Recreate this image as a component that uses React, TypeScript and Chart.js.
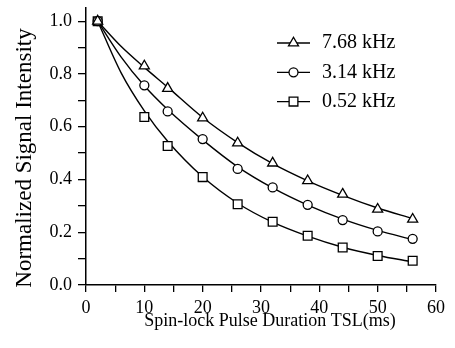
import { useEffect, useRef } from 'react';
import { Chart, registerables } from 'chart.js';
import { drawPoint } from 'chart.js/helpers';

Chart.register(...registerables);

const FONT = '"Liberation Serif", "Times New Roman", serif';

// Measured spin-lock durations (ms)
const tsl = [2, 10, 14, 20, 26, 32, 38, 44, 50, 56];
// Measured normalized intensities
const k768 = [1.0, 0.83, 0.745, 0.633, 0.538, 0.462, 0.395, 0.344, 0.287, 0.249];
const k314 = [1.0, 0.757, 0.658, 0.553, 0.44, 0.37, 0.304, 0.246, 0.203, 0.175];
const k052 = [1.0, 0.637, 0.527, 0.409, 0.306, 0.24, 0.187, 0.142, 0.11, 0.092];

// Fitted curves
const fitX = [2, 6, 10, 14, 20, 26, 32, 38, 44, 50, 56];
const fit768 = [1.0, 0.905, 0.825, 0.75, 0.635, 0.54, 0.46, 0.395, 0.34, 0.292, 0.252];
const fit314 = [1.0, 0.865, 0.755, 0.665, 0.55, 0.448, 0.368, 0.303, 0.25, 0.207, 0.172];
const fit052 = [1.0, 0.805, 0.66, 0.545, 0.41, 0.31, 0.238, 0.185, 0.143, 0.112, 0.088];

const seriesLabels = ['7.68 kHz', '3.14 kHz', '0.52 kHz'];
const seriesStyles = ['triangle', 'circle', 'rect'];
const seriesRadius = [5.8, 4.5, 6.2];

const xTitle = 'Spin-lock Pulse Duration TSL(ms)';
const yTitle = 'Normalized Signal Intensity';

const toXY = (xs: number[], ys: number[]) => xs.map((x, i) => ({ x, y: ys[i] }));

const insideLegend = {
  id: 'insideLegend',
  afterDraw(chart: any) {
    const { ctx, chartArea } = chart;
    const markers = chart.data.datasets.filter((d: any) => d.isMarker);
    const lineStart = chartArea.right - 159;
    const lineEnd = chartArea.right - 126;
    const textX = chartArea.right - 114;
    ctx.save();
    markers.forEach((d: any, i: number) => {
      const y = chartArea.top + 35 + i * 29.3;
      ctx.strokeStyle = '#000';
      ctx.lineWidth = 1.3;
      ctx.beginPath();
      ctx.moveTo(lineStart, y);
      ctx.lineTo(lineEnd, y);
      ctx.stroke();
      ctx.fillStyle = '#fff';
      ctx.lineWidth = 1.3;
      drawPoint(ctx, { pointStyle: d.pointStyle, radius: d.pointRadius, borderWidth: 1.3, rotation: 0 } as any, (lineStart + lineEnd) / 2, y);
      ctx.fillStyle = '#000';
      ctx.font = `20px ${FONT}`;
      ctx.textBaseline = 'middle';
      ctx.textAlign = 'left';
      ctx.fillText(d.label, textX, y);
    });
    ctx.restore();
  },
};

export default function App() {
  const ref = useRef<HTMLCanvasElement>(null);
  useEffect(() => {
    Chart.defaults.color = '#000';
    const markerSets = [k768, k314, k052].map((ys, i) => ({
      label: seriesLabels[i],
      isMarker: true,
      data: toXY(tsl, ys),
      showLine: false,
      pointStyle: seriesStyles[i],
      pointRadius: seriesRadius[i],
      pointBorderWidth: 1.3,
      pointBackgroundColor: '#fff',
      pointBorderColor: '#000',
      order: 0,
    }));
    const fitSets = [fit768, fit314, fit052].map((ys, i) => ({
      label: seriesLabels[i] + ' fit',
      data: toXY(fitX, ys),
      showLine: true,
      pointRadius: 0,
      borderColor: '#000',
      borderWidth: 1.4,
      cubicInterpolationMode: 'monotone',
      order: 1,
    }));
    const chart = new Chart(ref.current!, {
      type: 'scatter',
      data: { datasets: [...markerSets, ...fitSets] as any },
      options: {
        animation: false,
        responsive: true,
        maintainAspectRatio: false,
        layout: { padding: { top: 8, right: 19, bottom: 0, left: 0 } },
        plugins: { legend: { display: false }, tooltip: { enabled: false } },
        scales: {
          x: {
            type: 'linear',
            position: 'bottom',
            min: 0,
            max: 60,
            ticks: {
              stepSize: 5,
              autoSkip: false,
              maxRotation: 0,
              padding: 5,
              color: '#000',
              font: { family: FONT, size: 18 },
              callback: (v: any) => (Math.round(v) % 10 === 0 ? String(Math.round(v)) : ''),
            },
            grid: { display: true, drawOnChartArea: false, drawTicks: true, tickLength: 7, color: '#000', lineWidth: 1.3 },
            border: { display: true, color: '#000', width: 1.5 },
            title: { display: true, text: '    ' + xTitle, color: '#000', font: { family: FONT, size: 18 }, padding: { top: 0, bottom: 16 } },
            afterFit: (s: any) => {
              s.height = 63;
              s.paddingLeft = 0;
              s.paddingRight = 0;
            },
          },
          y: {
            type: 'linear',
            min: 0,
            max: 1.05,
            ticks: {
              stepSize: 0.1,
              includeBounds: false,
              autoSkip: false,
              padding: 6,
              color: '#000',
              font: { family: FONT, size: 18 },
              callback: (v: any) => (Math.round(v * 10) % 2 === 0 ? Number(v).toFixed(1) : ''),
            },
            grid: { display: true, drawOnChartArea: false, drawTicks: true, tickLength: 8, color: '#000', lineWidth: 1.3 },
            border: { display: true, color: '#000', width: 1.5 },
            title: { display: true, text: yTitle + '    ', color: '#000', font: { family: FONT, size: 23 }, padding: { top: 11, bottom: 0 } },
            afterFit: (s: any) => {
              s.width = 86;
              s.paddingTop = 0;
              s.paddingBottom = 0;
            },
          },
        },
      } as any,
      plugins: [insideLegend],
    });
    return () => chart.destroy();
  }, []);
  return (
    <div style={{ position: 'fixed', left: 0, top: 0, width: 455, height: 348, background: '#fff' }}>
      <canvas ref={ref} />
    </div>
  );
}
